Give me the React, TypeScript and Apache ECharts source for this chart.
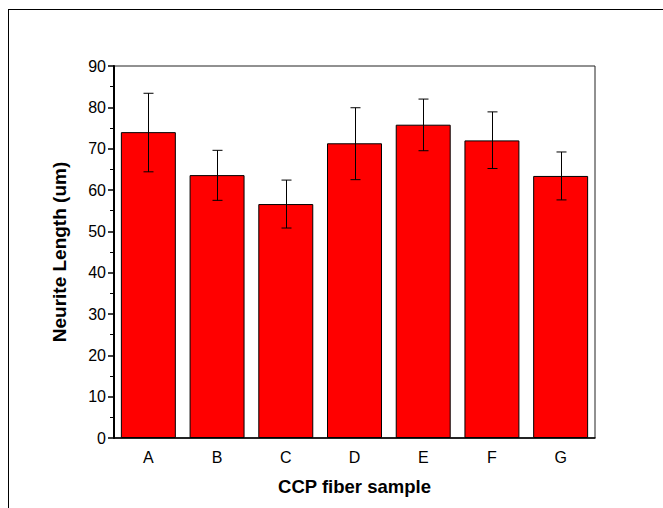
import React, { useEffect, useRef } from "react";
import * as echarts from "echarts";

const categories = ["A", "B", "C", "D", "E", "F", "G"];
const means = [74.0, 63.6, 56.6, 71.3, 75.8, 72.0, 63.4];
const errHigh = [83.4, 69.6, 62.4, 79.9, 82.0, 78.9, 69.2];
const errLow = [64.4, 57.5, 50.8, 62.5, 69.5, 65.2, 57.6];

export default function App() {
  const ref = useRef<HTMLDivElement>(null);
  useEffect(() => {
    if (!ref.current) return;
    const chart = echarts.init(ref.current, null, { renderer: "svg" });
    const errData = categories.map((_, i) => [i, errLow[i], errHigh[i]]);
    chart.setOption({
      animation: false,
      backgroundColor: "#fff",
      textStyle: { fontFamily: "Arial, 'Liberation Sans', sans-serif" },
      grid: {
        left: 114,
        top: 66,
        right: 68,
        bottom: 70,
        show: true,
        borderColor: "#222",
        borderWidth: 1,
        backgroundColor: "transparent",
      },
      graphic: [
        { type: "line", shape: { x1: 8, y1: 9.5, x2: 663, y2: 9.5 }, style: { stroke: "#000", lineWidth: 1 } },
        { type: "line", shape: { x1: 8.5, y1: 9, x2: 8.5, y2: 508 }, style: { stroke: "#000", lineWidth: 1 } },
      ],
      xAxis: {
        type: "category",
        data: categories,
        name: "CCP fiber sample",
        nameLocation: "middle",
        nameGap: 39,
        nameTextStyle: { fontSize: 18.5, fontWeight: "bold", color: "#000" },
        axisLine: { lineStyle: { color: "#000", width: 1.5 } },
        axisTick: { alignWithLabel: true, inside: false, length: 5, lineStyle: { color: "#000" } },
        axisLabel: { fontSize: 16, color: "#000", margin: 11 },
        splitLine: { show: false },
      },
      yAxis: {
        type: "value",
        min: 0,
        max: 90,
        interval: 10,
        name: "Neurite Length (um)",
        nameLocation: "middle",
        nameGap: 45,
        nameTextStyle: { fontSize: 19, fontWeight: "bold", color: "#000" },
        axisLine: { show: true, lineStyle: { color: "#000", width: 2 } },
        axisTick: { show: true, inside: false, length: 6, lineStyle: { color: "#000", width: 1.5 } },
        minorTick: { show: true, splitNumber: 2, length: 4, lineStyle: { color: "#000", width: 1 } },
        axisLabel: { fontSize: 16, color: "#000", margin: 8 },
        splitLine: { show: false },
      },
      series: [
        {
          type: "bar",
          data: means,
          barWidth: "80%",
          itemStyle: { color: "#ff0000", borderColor: "#000", borderWidth: 1 },
        },
        {
          type: "custom",
          data: errData,
          z: 10,
          renderItem: (params: any, api: any) => {
            const x = api.value(0);
            const lo = api.coord([x, api.value(1)]);
            const hi = api.coord([x, api.value(2)]);
            const cx = Math.round(lo[0]) + 0.5;
            const half = 5;
            const st = { stroke: "#000", lineWidth: 1 };
            return {
              type: "group",
              children: [
                { type: "line", shape: { x1: cx, y1: hi[1], x2: cx, y2: lo[1] }, style: st },
                { type: "line", shape: { x1: cx - half, y1: hi[1], x2: cx + half, y2: hi[1] }, style: st },
                { type: "line", shape: { x1: cx - half, y1: lo[1], x2: cx + half, y2: lo[1] }, style: st },
              ],
            };
          },
        },
      ],
    });
    return () => chart.dispose();
  }, []);
  return (
    <div
      ref={ref}
      style={{ position: "fixed", left: 0, top: 0, width: 663, height: 508 }}
    />
  );
}
